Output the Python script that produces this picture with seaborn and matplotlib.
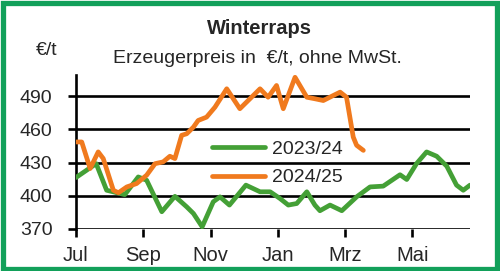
import matplotlib
matplotlib.use("Agg")
import matplotlib.pyplot as plt
import seaborn as sns
import pandas as pd
from matplotlib.patches import Rectangle
from matplotlib.lines import Line2D

# x positions in months since start of July (Jul = 0)
x_2324 = [0.0, 0.6, 0.91, 1.10, 1.45, 1.85, 2.10, 2.55, 2.94, 3.29, 3.49, 3.75,
          4.08, 4.28, 4.56, 5.05, 5.47, 5.77, 6.06, 6.31, 6.56, 6.86, 7.10, 7.25,
          7.55, 7.90, 8.34, 8.74, 9.13, 9.63, 9.83, 10.12, 10.42, 10.72, 11.02,
          11.31, 11.51, 11.71]
y_2324 = [416.5, 429, 405, 403.6, 401, 417, 414, 385.6, 399.5, 390, 384, 372,
          394.6, 399, 391.6, 409.6, 403.6, 403.6, 397.6, 391.6, 393, 403.6, 391.6, 386.5,
          391.6, 386.5, 399, 408, 408.7, 419, 414.7, 429, 439.6, 435.7, 426.7,
          409.6, 405, 409.6]

x_2425 = [0.0, 0.17, 0.42, 0.66, 0.81, 1.11, 1.26, 1.51, 1.80, 2.10, 2.35, 2.59,
          2.79, 2.94, 3.14, 3.29, 3.49, 3.63, 3.88, 4.13, 4.48, 4.87, 5.47, 5.71,
          5.96, 6.16, 6.51, 6.86, 7.10, 7.35, 7.65, 7.85, 8.04, 8.14, 8.24, 8.34, 8.54]
y_2425 = [448.6, 448.6, 424.6, 439.6, 433.6, 405, 402.7, 408, 411, 418.6, 429, 430.6,
          435.7, 433.6, 454.6, 456, 462, 468, 471, 480, 496.6, 478.6, 496.6, 489,
          499.6, 478.6, 507, 489, 487.6, 486, 490.6, 493.6, 489, 471, 453, 445.6, 441]

series_names = ["2023/24", "2024/25"]
month_ticks = [0, 2, 4, 6, 8, 10]
month_labels = ["Jul", "Sep", "Nov", "Jan", "Mrz", "Mai"]
y_ticks = [370, 400, 430, 460, 490]

GREEN = "#44a036"
ORANGE = "#f07a1e"
BORDER = "#12a05a"

sns.set_style("white")
plt.rcParams["font.family"] = ["Liberation Sans", "DejaVu Sans"]

df = pd.concat([
    pd.DataFrame({"Monat": x_2324, "Preis": y_2324, "Jahr": series_names[0]}),
    pd.DataFrame({"Monat": x_2425, "Preis": y_2425, "Jahr": series_names[1]}),
])

fig = plt.figure(figsize=(5.0, 2.71), dpi=100)
ax = fig.add_axes([0.152, 0.155, 0.788, 0.568])

sns.lineplot(data=df, x="Monat", y="Preis", hue="Jahr", sort=False,
             palette={series_names[0]: GREEN, series_names[1]: ORANGE},
             linewidth=3.4, ax=ax, legend=False, zorder=3,
             solid_capstyle="round", solid_joinstyle="round")

ax.set_xlim(0, 11.71)
ax.set_ylim(370, 509)
ax.set_yticks(y_ticks)
ax.set_xticks(month_ticks)
ax.set_xticklabels(month_labels)
ax.set_xlabel("")
ax.set_ylabel("")

for yv in y_ticks:
    ax.axhline(yv, color="black", linewidth=1.9, zorder=1)

for s in ["top", "right", "bottom"]:
    ax.spines[s].set_visible(False)
ax.spines["left"].set_color("black")
ax.spines["left"].set_linewidth(1.9)

ax.tick_params(axis="y", direction="out", length=6, width=1.9, color="black",
               labelsize=14, pad=11)
ax.tick_params(axis="x", direction="out", length=6, width=1.9, color="black",
               labelsize=14.5, pad=6.5)
ax.tick_params(left=True, bottom=True)

handles = [Line2D([], [], color=GREEN, linewidth=3.4, solid_capstyle="round"),
           Line2D([], [], color=ORANGE, linewidth=3.4, solid_capstyle="round")]
ax.legend(handles, series_names, loc="upper left", bbox_to_anchor=(0.344, 0.575),
          frameon=False, fontsize=14, handlelength=2.75, handletextpad=0.35,
          labelspacing=0.55, borderpad=0, borderaxespad=0)

fig.text(0.518, 0.893, "Winterraps", ha="center", va="center", fontsize=14.5,
         fontweight="bold")
fig.text(0.514, 0.784, "Erzeugerpreis in  €/t, ohne MwSt.", ha="center", va="center",
         fontsize=14)
fig.text(0.094, 0.815, "€/t", ha="center", va="center", fontsize=14)

fig.patches.append(Rectangle((0.005, 0.007), 0.989, 0.983, transform=fig.transFigure,
                             fill=False, edgecolor=BORDER, linewidth=3.8))

fig.savefig("out.png", dpi=100, facecolor="white")
